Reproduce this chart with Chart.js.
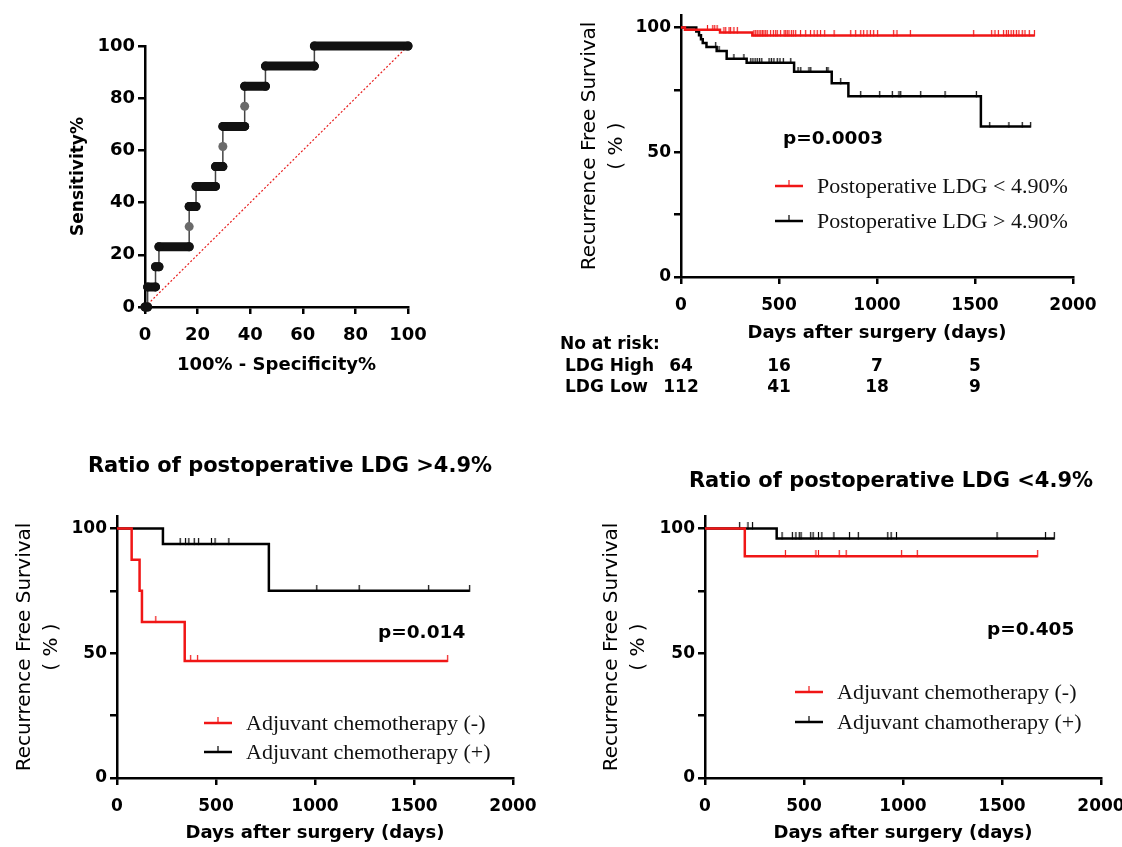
<!DOCTYPE html>
<html lang="en">
<head>
<meta charset="UTF-8">
<title>Postoperative LDG: ROC and recurrence free survival</title>
<script src="https://cdn.jsdelivr.net/npm/chart.js"></script>
<style>
  body { margin: 0; background: #fff; }
  #wrap { position: relative; width: 1122px; height: 847px; overflow: hidden; background: #fff; }
  canvas { position: absolute; }
</style>
</head>
<body>
<div id="wrap">
  <canvas id="roc" width="440" height="400" style="left:0;top:0"></canvas>
  <canvas id="kmAll" width="562" height="400" style="left:560px;top:0"></canvas>
  <canvas id="kmHigh" width="560" height="407" style="left:0;top:440px"></canvas>
  <canvas id="kmLow" width="562" height="407" style="left:580px;top:440px"></canvas>
</div>
<script>
// ---- ROC (100% - specificity where each sensitivity level starts) ----
const rocX    = [0, 1.0, 4.0, 5.3, 16.8, 16.8, 19.4, 26.8, 29.6, 29.6, 37.9, 37.9, 45.8, 64.4];
const rocSens = [0, 7.7, 15.4, 23.1, 30.8, 38.5, 46.2, 53.8, 61.5, 69.2, 76.9, 84.6, 92.3, 100];
const refLine = [0, 100];

// ---- KM: all patients ----
const highT = [0, 78, 92, 102, 111, 130, 182, 233, 335, 577, 769, 854, 1530, 1784];
const highS = [100, 98.4, 96.9, 95.3, 93.8, 92.2, 90.6, 87.5, 85.9, 82.3, 77.6, 72.4, 60.3, 60.3];
const highCens = [177, 194, 270, 321, 356, 367, 378, 389, 401, 412, 449, 461, 474, 491, 505, 522, 560,
  597, 611, 653, 662, 743, 750, 815, 917, 1014, 1078, 1112, 1121, 1223, 1347, 1507, 1575, 1673, 1741, 1784];
const lowT = [0, 20, 199, 364, 1803];
const lowS = [100, 99.1, 98.0, 96.8, 96.8];
const lowCens = [135, 162, 172, 184, 219, 228, 245, 253, 270, 287, 372, 381, 389, 398, 407, 415, 423, 432,
  440, 457, 471, 483, 491, 508, 526, 534, 542, 551, 563, 573, 585, 610, 636, 661, 679, 695, 712, 733, 781,
  866, 891, 917, 932, 949, 966, 983, 1003, 1085, 1102, 1170, 1493, 1585, 1602, 1619, 1646, 1660, 1670,
  1684, 1697, 1711, 1724, 1741, 1755, 1777, 1803];
const allNames = ['Postoperative LDG < 4.90%', 'Postoperative LDG > 4.90%'];

// number at risk
const riskTimes = [0, 500, 1000, 1500];
const riskHigh = [64, 16, 7, 5];
const riskLow = [112, 41, 18, 9];
const riskLabels = ['LDG High', 'LDG Low'];

// ---- KM: LDG > 4.9% by adjuvant chemotherapy ----
const hiNegT = [0, 74, 114, 126, 342, 1670];
const hiNegS = [100, 87.5, 75, 62.5, 46.9, 46.9];
const hiNegCens = [196, 372, 407, 1670];
const hiPosT = [0, 232, 767, 1781];
const hiPosS = [100, 93.75, 75, 75];
const hiPosCens = [319, 346, 363, 390, 412, 477, 495, 565, 1009, 1223, 1574, 1781];
const hiNames = ['Adjuvant chemotherapy (-)', 'Adjuvant chemotherapy (+)'];

// ---- KM: LDG < 4.9% by adjuvant chemotherapy ----
const loNegT = [0, 201, 1680];
const loNegS = [100, 88.9, 88.9];
const loNegCens = [406, 560, 573, 678, 713, 993, 1072, 1680];
const loPosT = [0, 362, 1764];
const loPosS = [100, 96, 96];
const loPosCens = [175, 217, 240, 389, 441, 459, 476, 485, 534, 546, 573, 590, 651, 730, 774, 923, 940,
  967, 1475, 1720, 1764];
const loNames = ['Adjuvant chemotherapy (-)', 'Adjuvant chamotherapy (+)'];

const RED = 'rgb(240,22,22)';
const BLACK = '#000';

const F_TICK = { family: 'DejaVu Sans', size: 17, weight: 'bold' };
const F_XTITLE = { family: 'DejaVu Sans', size: 18, weight: 'bold' };
const F_YTITLE = { family: 'DejaVu Sans', size: 20, lineHeight: 1.35 };
const P_FONT = 'bold 18.5px "DejaVu Sans"';

function survAt(t, T, S) {
  let s = S[0];
  for (let i = 0; i < T.length; i++) if (T[i] <= t) s = S[i];
  return s;
}

// little vertical tick drawn above the curve for censored cases
function censorMark(color, h) {
  const c = document.createElement('canvas');
  c.width = 3; c.height = h * 2;
  const g = c.getContext('2d');
  g.strokeStyle = color; g.lineWidth = 1.2;
  g.beginPath(); g.moveTo(1.5, 0); g.lineTo(1.5, h + 1); g.stroke();
  return c;
}

function kmSets(name, T, S, cens, color, tickH) {
  return [
    { label: name, data: T.map((t, i) => ({ x: t, y: S[i] })), borderColor: color, borderWidth: 2.5,
      stepped: true, pointRadius: 0, fill: false, clip: false },
    { label: name + ' censored', data: cens.map(t => ({ x: t, y: survAt(t, T, S) })), showLine: false,
      pointStyle: censorMark(color, tickH), pointRadius: 3, clip: false }
  ];
}

function axis(o) {
  return {
    type: 'linear', position: o.pos, min: o.min, max: o.max,
    ticks: { stepSize: o.step, includeBounds: false, autoSkip: false, maxRotation: 0, font: o.tickFont,
      color: '#000', padding: o.pad, callback: o.cb || (v => v) },
    grid: { drawOnChartArea: false, drawTicks: true, tickLength: 7, color: '#000', lineWidth: 2.5 },
    border: { display: true, color: '#000', width: 2.5 },
    title: { display: true, text: o.title, font: o.titleFont, color: '#000', padding: o.titlePad },
    afterFit: o.fit
  };
}

const notesPlugin = {
  id: 'notes',
  afterDraw(chart, args, opts) {
    const ctx = chart.ctx;
    (opts.items || []).forEach(n => {
      ctx.save();
      ctx.font = n.font; ctx.fillStyle = '#000';
      ctx.textAlign = n.align || 'left'; ctx.textBaseline = 'middle';
      ctx.fillText(n.text, n.x, n.y);
      ctx.restore();
    });
  }
};

const legendPlugin = {
  id: 'kmLegend',
  afterDraw(chart, args, opts) {
    if (!opts.items) return;
    const ctx = chart.ctx;
    ctx.save();
    opts.items.forEach((it, i) => {
      const y = opts.y + i * opts.gap;
      ctx.strokeStyle = it.color; ctx.lineWidth = 2.5;
      ctx.beginPath(); ctx.moveTo(opts.x, y); ctx.lineTo(opts.x + 28, y); ctx.stroke();
      ctx.lineWidth = 1.2;
      ctx.beginPath(); ctx.moveTo(opts.x + 14, y); ctx.lineTo(opts.x + 14, y - 6); ctx.stroke();
      ctx.fillStyle = '#111'; ctx.font = '22px "Liberation Serif"'; ctx.textBaseline = 'middle';
      ctx.fillText(it.text, opts.x + 42, y + 1);
    });
    ctx.restore();
  }
};

const riskPlugin = {
  id: 'riskTable',
  afterDraw(chart) {
    const ctx = chart.ctx, x = chart.scales.x;
    ctx.save();
    ctx.font = 'bold 17px "DejaVu Sans"'; ctx.fillStyle = '#000'; ctx.textBaseline = 'middle';
    ctx.textAlign = 'left';
    ctx.fillText('No at risk:', 0, 345);
    [riskHigh, riskLow].forEach((row, r) => {
      const y = 367 + r * 21;
      ctx.textAlign = 'left';
      ctx.fillText(riskLabels[r], 5, y);
      ctx.textAlign = 'center';
      row.forEach((n, i) => ctx.fillText(String(n), x.getPixelForValue(riskTimes[i]), y));
    });
    ctx.restore();
  }
};

function kmOptions(o) {
  return {
    responsive: false, animation: false,
    layout: { padding: o.padding, autoPadding: false },
    plugins: {
      legend: { display: false }, tooltip: { enabled: false },
      notes: { items: o.notes },
      kmLegend: { x: o.legX, y: o.legY, gap: o.legGap, items: o.legItems }
    },
    scales: {
      x: axis({ pos: 'bottom', min: 0, max: 2000, step: 500, tickFont: F_TICK, pad: 11,
        title: 'Days after surgery (days)', titleFont: F_XTITLE, titlePad: { top: 0, bottom: o.xTitlePad },
        fit: s => { s.height = o.xH; } }),
      y: axis({ pos: 'left', min: 0, max: 105, step: 25, tickFont: F_TICK, pad: 3,
        cb: v => (v % 50 === 0 ? v : ''),
        title: ['Recurrence Free Survival', '( % )'], titleFont: F_YTITLE, titlePad: { top: o.yTitlePad },
        fit: s => { s.width = o.yW; } })
    }
  };
}

// ---- ROC chart ----
const rocRuns = [], rocDots = [];
rocX.forEach((x, i) => {
  const end = i < rocX.length - 1 ? rocX[i + 1] : 100;
  if (end > x) rocRuns.push({ x: x, y: rocSens[i] }, { x: end, y: rocSens[i] }, { x: end, y: null });
  else rocDots.push({ x: x, y: rocSens[i] });
});

new Chart(document.getElementById('roc'), {
  type: 'line',
  data: {
    datasets: [
      { data: rocRuns, borderColor: '#121212', borderWidth: 9, borderCapStyle: 'round', spanGaps: false,
        pointRadius: 4.5, pointBackgroundColor: '#121212', pointBorderWidth: 0, clip: false },
      { data: rocDots, showLine: false, pointRadius: 4.5, pointBackgroundColor: '#6a6a6a',
        pointBorderWidth: 0, clip: false },
      { data: rocX.map((x, i) => ({ x: x, y: rocSens[i] })).concat([{ x: 100, y: 100 }]),
        stepped: true, borderColor: '#444', borderWidth: 1.5, pointRadius: 0, clip: false },
      { data: refLine.map(v => ({ x: v, y: v })), borderColor: 'rgb(232,30,30)', borderWidth: 1.2,
        borderDash: [2, 2], pointRadius: 0, clip: false }
    ]
  },
  options: {
    responsive: false, animation: false,
    layout: { padding: { left: 60, top: 46, right: 32, bottom: 18 }, autoPadding: false },
    plugins: { legend: { display: false }, tooltip: { enabled: false } },
    scales: {
      x: axis({ pos: 'bottom', min: 0, max: 100, step: 20, tickFont: { family: 'DejaVu Sans', size: 18, weight: 'bold' },
        pad: 11, title: '100% - Specificity%', titleFont: F_XTITLE, titlePad: { top: 0, bottom: 6 },
        fit: s => { s.height = 75; } }),
      y: axis({ pos: 'left', min: 0, max: 100, step: 20, tickFont: { family: 'DejaVu Sans', size: 18, weight: 'bold' },
        pad: 3, title: 'Sensitivity%', titleFont: { family: 'DejaVu Sans', size: 17, weight: 'bold' },
        titlePad: { top: 8 }, fit: s => { s.width = 85; } })
    }
  }
});

// ---- KM all patients ----
new Chart(document.getElementById('kmAll'), {
  type: 'line',
  data: { datasets: [].concat(
    kmSets(allNames[0], lowT, lowS, lowCens, RED, 5),
    kmSets(allNames[1], highT, highS, highCens, BLACK, 5)) },
  options: kmOptions({
    padding: { left: 10, top: 15, right: 49, bottom: 50 }, xH: 73, yW: 111, xTitlePad: 6, yTitlePad: 6.5,
    notes: [{ text: 'p=0.0003', x: 223, y: 139, font: P_FONT }],
    legX: 215, legY: 186, legGap: 35,
    legItems: [{ text: allNames[0], color: RED }, { text: allNames[1], color: BLACK }]
  }),
  plugins: [notesPlugin, legendPlugin, riskPlugin]
});

// ---- KM LDG > 4.9% ----
new Chart(document.getElementById('kmHigh'), {
  type: 'line',
  data: { datasets: [].concat(
    kmSets(hiNames[0], hiNegT, hiNegS, hiNegCens, RED, 6),
    kmSets(hiNames[1], hiPosT, hiPosS, hiPosCens, BLACK, 6)) },
  options: kmOptions({
    padding: { left: 5, top: 76, right: 47, bottom: 0 }, xH: 69, yW: 112, xTitlePad: 3, yTitlePad: 6.5,
    notes: [
      { text: 'Ratio of postoperative LDG >4.9%', x: 290, y: 27, align: 'center', font: 'bold 21px "DejaVu Sans"' },
      { text: 'p=0.014', x: 378, y: 193, font: P_FONT }
    ],
    legX: 204, legY: 283, legGap: 29,
    legItems: [{ text: hiNames[0], color: RED }, { text: hiNames[1], color: BLACK }]
  }),
  plugins: [notesPlugin, legendPlugin]
});

// ---- KM LDG < 4.9% (canvas runs past the page edge, clipped like the source) ----
new Chart(document.getElementById('kmLow'), {
  type: 'line',
  data: { datasets: [].concat(
    kmSets(loNames[0], loNegT, loNegS, loNegCens, RED, 6),
    kmSets(loNames[1], loPosT, loPosS, loPosCens, BLACK, 6)) },
  options: kmOptions({
    padding: { left: 10, top: 76, right: 41, bottom: 0 }, xH: 69, yW: 115, xTitlePad: 3, yTitlePad: 8.5,
    notes: [
      { text: 'Ratio of postoperative LDG <4.9%', x: 311, y: 42, align: 'center', font: 'bold 21px "DejaVu Sans"' },
      { text: 'p=0.405', x: 407, y: 190, font: P_FONT }
    ],
    legX: 215, legY: 252, legGap: 30,
    legItems: [{ text: loNames[0], color: RED }, { text: loNames[1], color: BLACK }]
  }),
  plugins: [notesPlugin, legendPlugin]
});
</script>
</body>
</html>
